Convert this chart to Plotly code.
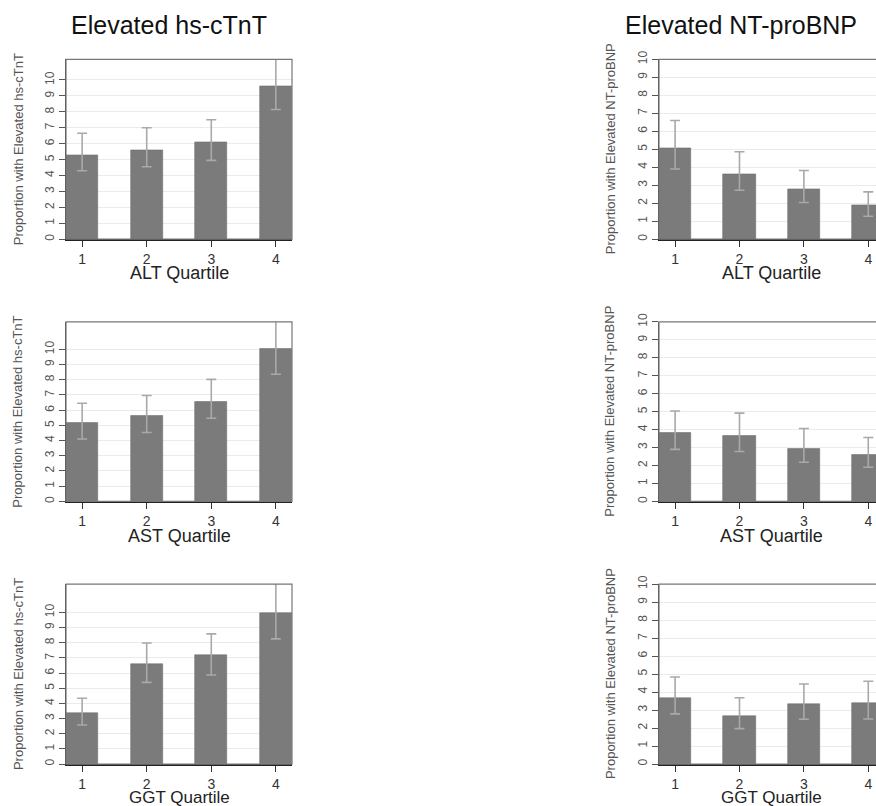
import plotly.graph_objects as go

W, H = 876, 806
# vertical calibration of the photographed page: screen_y = Y0 + YS * figure_y
Y0, YS = 8.7, 0.9867

quartiles = [1, 2, 3, 4]

# Elevated hs-cTnT panels
ctnt_alt = [5.3, 5.6, 6.1, 9.6]
ctnt_alt_lo = [4.3, 4.55, 4.95, 8.15]
ctnt_alt_hi = [6.65, 7.0, 7.5, 11.6]

ctnt_ast = [5.15, 5.62, 6.56, 10.0]
ctnt_ast_lo = [4.1, 4.53, 5.47, 8.36]
ctnt_ast_hi = [6.45, 6.96, 8.02, 12.0]

ctnt_ggt = [3.33, 6.6, 7.15, 9.98]
ctnt_ggt_lo = [2.57, 5.38, 5.87, 8.25]
ctnt_ggt_hi = [4.34, 7.98, 8.58, 12.0]

# Elevated NT-proBNP panels
bnp_alt = [5.04, 3.6, 2.75, 1.88]
bnp_alt_lo = [3.9, 2.72, 2.04, 1.28]
bnp_alt_hi = [6.6, 4.86, 3.82, 2.63]

bnp_ast = [3.8, 3.67, 2.94, 2.6]
bnp_ast_lo = [2.9, 2.78, 2.18, 1.9]
bnp_ast_hi = [5.04, 4.92, 4.06, 3.56]

bnp_ggt = [3.64, 2.67, 3.31, 3.36]
bnp_ggt_lo = [2.79, 1.97, 2.49, 2.5]
bnp_ggt_hi = [4.84, 3.68, 4.45, 4.6]

ytick_vals = list(range(0, 11))
xtick_vals = [1, 2, 3, 4]
xtick_text = ["1", "2", "3", "4"]

panels = [
    # values, lo, hi, xlabel, ylabel, column, row, ymax
    (ctnt_alt, ctnt_alt_lo, ctnt_alt_hi, "ALT Quartile", "Proportion with Elevated hs-cTnT", 0, 0, 11.3),
    (bnp_alt, bnp_alt_lo, bnp_alt_hi, "ALT Quartile", "Proportion with Elevated NT-proBNP", 1, 0, 10.0),
    (ctnt_ast, ctnt_ast_lo, ctnt_ast_hi, "AST Quartile", "Proportion with Elevated hs-cTnT", 0, 1, 11.8),
    (bnp_ast, bnp_ast_lo, bnp_ast_hi, "AST Quartile", "Proportion with Elevated NT-proBNP", 1, 1, 10.0),
    (ctnt_ggt, ctnt_ggt_lo, ctnt_ggt_hi, "GGT Quartile", "Proportion with Elevated hs-cTnT", 0, 2, 11.86),
    (bnp_ggt, bnp_ggt_lo, bnp_ggt_hi, "GGT Quartile", "Proportion with Elevated NT-proBNP", 1, 2, 10.0),
]

# target geometry in screen pixels
col_x = [(66, 292), (659, 876)]
col_range = [[0.75, 4.25], [0.75, 4.12]]
row_y = [(59, 239), (321.7, 501.3), (584, 764)]
xtitle_y = [273, 536, 797.5]
xtitle_size = [18, 18, 17]
ytitle_x = [18, 610]


def px(x):
    return x / W


def py(y):
    fy = (y - Y0) / YS
    return (H - fy) / H


fig = go.Figure()
layout = dict(
    width=W, height=H,
    margin=dict(l=0, r=0, t=0, b=0),
    paper_bgcolor="white", plot_bgcolor="white",
    showlegend=False,
    font=dict(family="Liberation Sans, Arial, sans-serif"),
    bargap=0,
)
annotations = []
shapes = []

for i, (vals, lo, hi, xlab, ylab, col, row, ymax) in enumerate(panels):
    n = "" if i == 0 else str(i + 1)
    xa, ya = "x" + n, "y" + n
    plus = [h - v for h, v in zip(hi, vals)]
    minus = [v - l for v, l in zip(vals, lo)]
    fig.add_trace(go.Bar(
        x=quartiles, y=vals, width=0.5,
        marker=dict(color="#7b7b7b", line=dict(color="#6e6e6e", width=0.6)),
        error_y=dict(type="data", symmetric=False, array=plus, arrayminus=minus,
                     color="#a9a9a9", thickness=1.6, width=5),
        xaxis=xa, yaxis=ya, hoverinfo="skip",
    ))
    x0, x1 = col_x[col]
    yt, yb = row_y[row]
    layout["xaxis" + n] = dict(
        domain=[px(x0), px(x1)], range=col_range[col], anchor=ya,
        tickvals=xtick_vals, ticktext=xtick_text, ticks="outside", ticklen=6,
        tickcolor="#333", tickwidth=1.2, showgrid=False, zeroline=False,
        showline=True, linecolor="#222", linewidth=1.5,
        tickfont=dict(size=14, color="#333"), fixedrange=True,
        ticklabeloverflow="allow",
    )
    layout["yaxis" + n] = dict(
        domain=[py(yb), py(yt)], range=[0, ymax], anchor=xa,
        tickvals=ytick_vals, ticks="outside", ticklen=6, tickcolor="#555",
        tickangle=-90, showgrid=True, gridcolor="#ebebeb", gridwidth=1,
        zeroline=False, showline=True, linecolor="#444", linewidth=1.2,
        tickfont=dict(size=12, color="#555"), fixedrange=True,
        ticklabeloverflow="allow",
    )
    # box outline (top and right)
    shapes.append(dict(type="rect", xref=xa + " domain", yref=ya + " domain",
                       x0=0, x1=1 if col == 0 else 1.05, y0=0, y1=1,
                       line=dict(color="#777", width=1.2), layer="above"))
    # x-axis title
    annotations.append(dict(text=xlab, xref=xa, yref="paper", x=2.5,
                            y=py(xtitle_y[row]), showarrow=False,
                            xanchor="center", yanchor="middle",
                            font=dict(size=xtitle_size[row], color="#222")))
    # y-axis title
    annotations.append(dict(text=ylab, xref="paper", yref="paper",
                            x=px(ytitle_x[col]), y=py((yt + yb) / 2),
                            textangle=-90, showarrow=False,
                            xanchor="center", yanchor="middle",
                            font=dict(size=13, color="#555")))

# column titles
annotations.append(dict(text="Elevated hs-cTnT", xref="paper", yref="paper",
                        x=px(169), y=py(25), showarrow=False,
                        xanchor="center", yanchor="middle",
                        font=dict(size=25, color="#111")))
annotations.append(dict(text="Elevated NT-proBNP", xref="paper", yref="paper",
                        x=px(741), y=py(25), showarrow=False,
                        xanchor="center", yanchor="middle",
                        font=dict(size=25, color="#111")))

layout["annotations"] = annotations
layout["shapes"] = shapes
fig.update_layout(**layout)
fig.write_html(
    "out.html",
    config={"displayModeBar": False},
    post_script="document.body.style.margin='0px';document.body.style.overflow='hidden';",
)
